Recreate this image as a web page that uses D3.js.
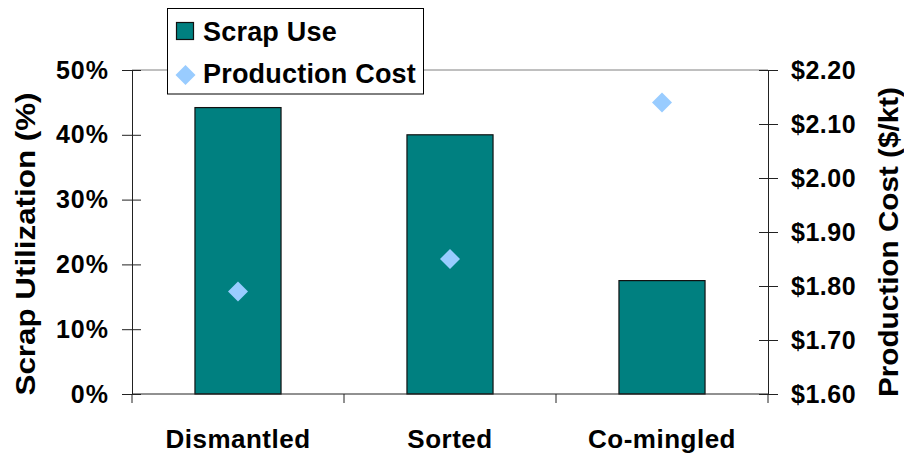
<!DOCTYPE html>
<html>
<head>
<meta charset="utf-8">
<script src="https://cdn.jsdelivr.net/npm/d3@7"></script>
<style>
  html, body { margin: 0; padding: 0; background: #fff; }
  svg { display: block; }
  text { font-family: "Liberation Sans", Arial, Helvetica, sans-serif; font-weight: bold; fill: #000; }
</style>
</head>
<body>
<svg id="chart" width="904" height="456"></svg>
<script>
// Scrap utilisation and production cost by scrap handling route
const categories = ["Dismantled", "Sorted", "Co-mingled"];
const scrapUse = [0.442, 0.400, 0.175];          // share of scrap used
const productionCost = [1.79, 1.85, 2.14];       // $/kt
const leftTicks = [0, 0.1, 0.2, 0.3, 0.4, 0.5];
const rightTicks = [1.6, 1.7, 1.8, 1.9, 2.0, 2.1, 2.2];
const seriesNames = ["Scrap Use", "Production Cost"];

const barColor = "#008080";
const markerColor = "#99CCFF";
const axisColor = "#222";

const svg = d3.select("#chart");
const plot = { left: 132, right: 768, top: 70, bottom: 394 };

const x = d3.scaleBand()
  .domain(categories)
  .range([plot.left, plot.right])
  .paddingInner(0.594)
  .paddingOuter(0.297);

const yL = d3.scaleLinear().domain([0, 0.5]).range([plot.bottom, plot.top]);
const yR = d3.scaleLinear().domain([1.6, 2.2]).range([plot.bottom, plot.top]);

// top gridline at the axis maximum
svg.append("line")
  .attr("x1", plot.left).attr("x2", plot.right)
  .attr("y1", yL(0.5)).attr("y2", yL(0.5))
  .attr("stroke", "#808080").attr("stroke-width", 1);

// bars
svg.append("g").selectAll("rect")
  .data(categories)
  .join("rect")
  .attr("x", d => x(d))
  .attr("y", (d, i) => yL(scrapUse[i]))
  .attr("width", x.bandwidth())
  .attr("height", (d, i) => yL(0) - yL(scrapUse[i]))
  .attr("fill", barColor)
  .attr("stroke", "#111")
  .attr("stroke-width", 1.2);

// left axis
const gL = svg.append("g")
  .attr("transform", `translate(${plot.left},0)`)
  .call(d3.axisLeft(yL).tickValues(leftTicks).tickFormat(d3.format(".0%"))
    .tickSize(10).tickPadding(13).tickSizeOuter(0));
gL.select(".domain").attr("stroke", axisColor);
gL.selectAll(".tick line").attr("x1", 9).attr("stroke", axisColor);
gL.selectAll(".tick text").attr("font-size", 25).attr("letter-spacing", 1);

// right axis
const gR = svg.append("g")
  .attr("transform", `translate(${plot.right},0)`)
  .call(d3.axisRight(yR).tickValues(rightTicks).tickFormat(d => "$" + d3.format(".2f")(d))
    .tickSize(10).tickPadding(13).tickSizeOuter(0));
gR.select(".domain").attr("stroke", axisColor);
gR.selectAll(".tick line").attr("x1", -9).attr("stroke", axisColor);
gR.selectAll(".tick text").attr("font-size", 25).attr("letter-spacing", 0.5);

// category axis: ticks between categories, labels centred on bands
const gB = svg.append("g")
  .attr("transform", `translate(0,${plot.bottom})`);
gB.append("line")
  .attr("x1", plot.left).attr("x2", plot.right)
  .attr("stroke", axisColor);
const boundaries = d3.range(categories.length + 1).map(i => plot.left + i * x.step());
gB.selectAll("line.sep")
  .data(boundaries)
  .join("line")
  .attr("class", "sep")
  .attr("x1", d => d).attr("x2", d => d)
  .attr("y1", 0).attr("y2", 9)
  .attr("stroke", axisColor);
gB.selectAll("text")
  .data(categories)
  .join("text")
  .attr("x", d => x(d) + x.bandwidth() / 2)
  .attr("y", 54)
  .attr("text-anchor", "middle")
  .attr("font-size", 26)
  .attr("letter-spacing", 0.5)
  .text(d => d);

// production cost markers
const diamond = d3.symbol(d3.symbolSquare, 200);
svg.append("g").selectAll("path")
  .data(categories)
  .join("path")
  .attr("d", diamond)
  .attr("transform", (d, i) =>
    `translate(${x(d) + x.bandwidth() / 2},${yR(productionCost[i])}) rotate(45)`)
  .attr("fill", markerColor);

// axis titles
svg.append("text")
  .attr("transform", "translate(25,244) rotate(-90)")
  .attr("text-anchor", "middle")
  .attr("dominant-baseline", "central")
  .attr("font-size", 28)
  .attr("textLength", 303)
  .attr("lengthAdjust", "spacingAndGlyphs")
  .text("Scrap Utilization (%)");

svg.append("text")
  .attr("transform", "translate(888,242) rotate(-90)")
  .attr("text-anchor", "middle")
  .attr("dominant-baseline", "central")
  .attr("font-size", 28)
  .attr("textLength", 310)
  .attr("lengthAdjust", "spacingAndGlyphs")
  .text("Production Cost ($/kt)");

// legend
const legend = svg.append("g");
legend.append("rect")
  .attr("x", 167.5).attr("y", 8.5)
  .attr("width", 256).attr("height", 85.5)
  .attr("fill", "#fff").attr("stroke", "#000").attr("stroke-width", 1);
legend.append("rect")
  .attr("x", 176.5).attr("y", 22.5)
  .attr("width", 17).attr("height", 17)
  .attr("fill", barColor).attr("stroke", "#111").attr("stroke-width", 1.2);
legend.append("path")
  .attr("d", diamond)
  .attr("transform", "translate(185.5,75) rotate(45)")
  .attr("fill", markerColor);
legend.selectAll("text")
  .data(seriesNames)
  .join("text")
  .attr("x", 203)
  .attr("y", (d, i) => 41 + i * 42)
  .attr("font-size", 27)
  .attr("letter-spacing", 0.2)
  .text(d => d);
</script>
</body>
</html>
